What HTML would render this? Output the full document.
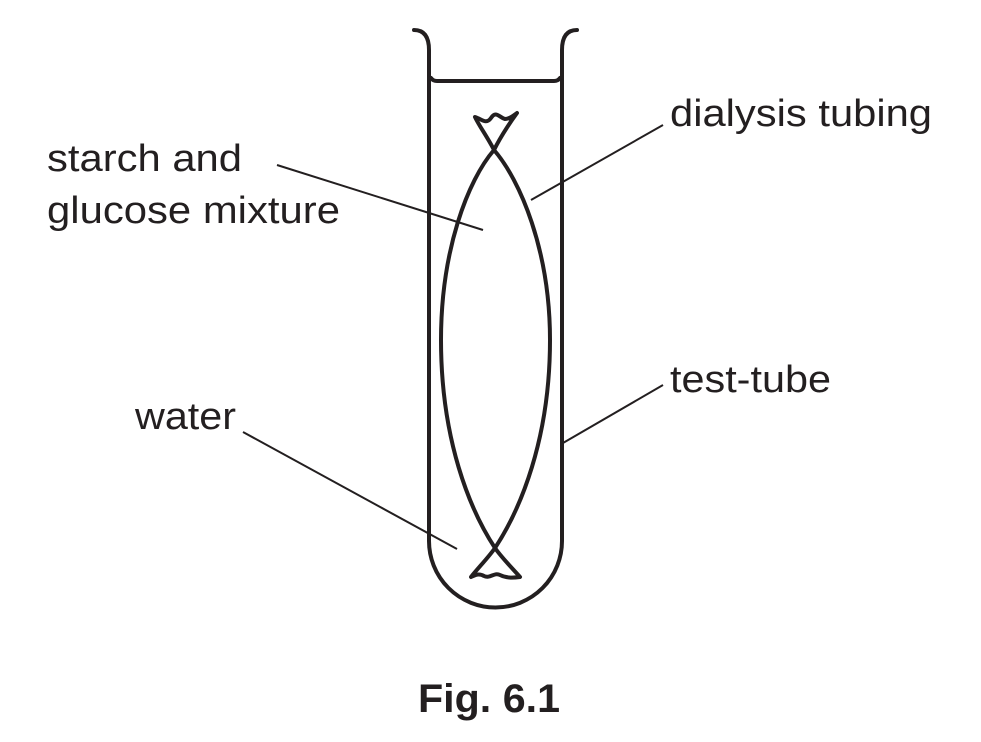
<!DOCTYPE html>
<html><head><style>
body{margin:0;background:#fff;}
svg{display:block;}
text{font-family:"Liberation Sans",Arial,sans-serif;fill:#231f20;}
</style></head><body>
<svg width="981" height="742" viewBox="0 0 981 742">
<g fill="none" stroke="#231f20" stroke-width="4" stroke-linecap="round" stroke-linejoin="round">
<path d="M414 30 Q429 30 429 50 L429 541 A66.5 66.5 0 0 0 562 541 L562 50 Q562 30 577 30"/>
<path d="M431 78 Q433 81 437 81 L554 81 Q558 81 560 78"/>
<path d="M494 150 C520 180 550 250 550 340 C550 440 520 510 495 548"/>
<path d="M494 150 C468 180 441 250 441 340 C441 440 470 510 495 548"/>
<path d="M494 150 C488 138 478 124 475 117 C482 119 486 125 491 118 C496 110 500 118 505 119 C510 119 514 115 517 113 C509 124 500 138 494 150"/>
<path d="M495 548 C502 558 512 568 520 577 C512 578 506 578 500 575 C494 572 490 579 484 576 C479 573 475 575 471 577 C478 568 488 558 495 548"/>
</g>
<g stroke="#231f20" stroke-width="2">
<line x1="277" y1="165" x2="483" y2="230"/>
<line x1="663" y1="125" x2="531" y2="200"/>
<line x1="663" y1="385" x2="563" y2="443"/>
<line x1="243" y1="432" x2="457" y2="549"/>
</g>
<text x="47" y="171" font-size="38" textLength="195" lengthAdjust="spacingAndGlyphs">starch and</text>
<text x="47" y="223" font-size="38" textLength="293" lengthAdjust="spacingAndGlyphs">glucose mixture</text>
<text x="670" y="126" font-size="38" textLength="262" lengthAdjust="spacingAndGlyphs">dialysis tubing</text>
<text x="670" y="392" font-size="38" textLength="161" lengthAdjust="spacingAndGlyphs">test-tube</text>
<text x="135" y="429" font-size="38" textLength="101" lengthAdjust="spacingAndGlyphs">water</text>
<text x="418" y="712" font-size="40" font-weight="bold" textLength="142" lengthAdjust="spacingAndGlyphs">Fig. 6.1</text>
</svg>
</body></html>
